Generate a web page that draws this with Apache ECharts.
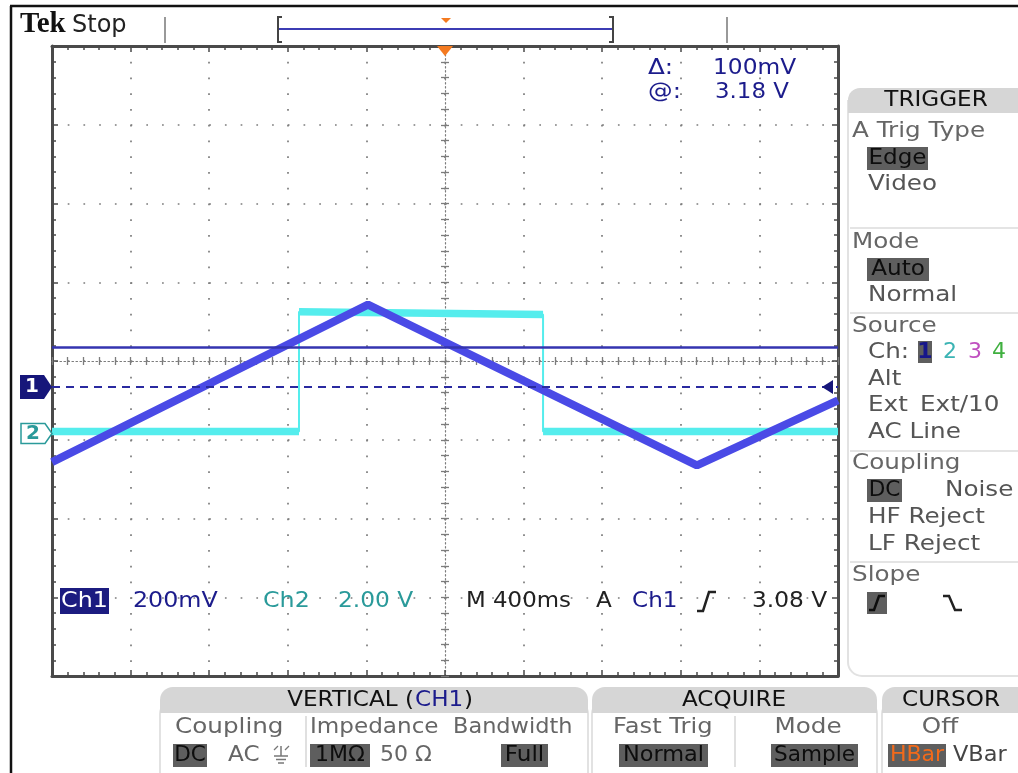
<!DOCTYPE html>
<html><head><meta charset="utf-8">
<script src="https://cdn.jsdelivr.net/npm/echarts@6/dist/echarts.min.js"></script>
<style>html,body{margin:0;padding:0;background:#fff}#c{width:1018px;height:773px}</style>
</head><body><div id="c"></div>
<script>
// ---------- data ----------
const timeMin = -2000, timeMax = 2000, timePerDiv = 400;          // ms
const ch1Times = [-2000, -392, 1282, 2000];                        // ms
const ch1Volts = [2.889, 3.289, 2.881, 3.046];                     // V
const ch2Times = [-2000, -743, -743, 499, 499, 2000];              // ms
const ch2Volts = [0.05, 0.05, 3.09, 3.02, 0.05, 0.05];             // V
const ch1VoltsPerDiv = 0.2, ch1CenterVolts = 3.146;
const ch2VoltsPerDiv = 2.0, ch2CenterVolts = 1.84;
const triggerLevel = 3.08, cursorLevel = 3.18, ch2Ground = 0;

// ---------- colours ----------
const C1 = '#4a4ae6', C2 = '#55eded', NAVY = '#1c1c8c', TEAL = '#2a9a9a';
const BORDER = '#4a4a4a', GRAT = '#7c7c7c';
const FONT = '"DejaVu Sans"';

const ch1Data = ch1Times.map((t, i) => [t, ch1Volts[i]]);
const ch2Full = ch2Times.map((t, i) => [t, ch2Volts[i]]);
const ch2Flat = [];
ch2Times.forEach((t, i) => {
  ch2Flat.push([t, ch2Volts[i]]);
  if (i < ch2Times.length - 1 && ch2Times[i + 1] === t) ch2Flat.push([t, '-']);
});

const G = {left: 52, top: 46, width: 786, height: 630};
const tickStyle = {color: BORDER, width: 1.5};
function borderAxis(pos, extra) {
  return Object.assign({
    type: 'value', position: pos,
    axisLine: {show: true, onZero: false, lineStyle: {color: BORDER, width: 3}},
    axisTick: {show: true, inside: true, length: 6, lineStyle: tickStyle},
    minorTick: {show: true, splitNumber: 5, length: 4, lineStyle: tickStyle},
    axisLabel: {show: false}, splitLine: {show: false}
  }, extra);
}
function centerAxis(pos, inside, onZeroIdx, extra) {
  return Object.assign({
    type: 'value', position: pos,
    axisLine: {show: inside, onZero: true, onZeroAxisIndex: onZeroIdx,
      lineStyle: {color: GRAT, width: 1.2, type: [1.5, 2.5]}},
    axisTick: {show: true, inside: inside, length: 4, lineStyle: {color: GRAT, width: 1.3}},
    minorTick: {show: true, splitNumber: 5, length: 4, lineStyle: {color: GRAT, width: 1.3}},
    axisLabel: {show: false}, splitLine: {show: false}
  }, extra);
}
const xr = {min: timeMin, max: timeMax, interval: timePerDiv};
const yr = {min: -4, max: 4, interval: 1};

const chart = echarts.init(document.getElementById('c'), null, {renderer: 'canvas'});
chart.setOption({
  animation: false,
  backgroundColor: '#fff',
  grid: Object.assign({containLabel: false, outerBoundsMode: 'none'}, G),
  xAxis: [
    borderAxis('bottom', Object.assign({splitLine: {show: true,
      lineStyle: {color: GRAT, width: 1.7, type: [1.7, G.height / 40 - 1.7]}}}, xr)),
    borderAxis('top', xr),
    centerAxis('bottom', true, 0, xr),
    centerAxis('bottom', false, 0, xr)
  ],
  yAxis: [
    borderAxis('left', Object.assign({splitLine: {show: true,
      lineStyle: {color: GRAT, width: 1.7, type: [1.7, G.width / 50 - 1.7]}}}, yr)),
    {type: 'value', show: false, min: ch1CenterVolts - 4 * ch1VoltsPerDiv, max: ch1CenterVolts + 4 * ch1VoltsPerDiv, axisLine: {onZero: false}},
    {type: 'value', show: false, min: ch2CenterVolts - 4 * ch2VoltsPerDiv, max: ch2CenterVolts + 4 * ch2VoltsPerDiv, axisLine: {onZero: false}},
    borderAxis('right', yr),
    centerAxis('left', true, 0, yr),
    centerAxis('left', false, 0, yr)
  ],
  series: [
    {type: 'line', name: 'Ch2 edges', xAxisIndex: 0, yAxisIndex: 2, data: ch2Full, showSymbol: false,
      lineStyle: {color: C2, width: 2}, z: 3, silent: true},
    {type: 'line', name: 'Ch2', xAxisIndex: 0, yAxisIndex: 2, data: ch2Flat, showSymbol: false, connectNulls: false,
      lineStyle: {color: C2, width: 7.5}, z: 3, silent: true},
    {type: 'line', name: 'Ch1', xAxisIndex: 0, yAxisIndex: 1, data: ch1Data, showSymbol: false,
      lineStyle: {color: C1, width: 8}, z: 4, silent: true,
      markLine: {silent: true, symbol: 'none', label: {show: false}, z: 6,
        data: [
          {yAxis: cursorLevel, lineStyle: {type: 'solid', color: '#3434b0', width: 2.5}},
          {yAxis: triggerLevel, lineStyle: {type: [8, 6], color: '#2a2aa0', width: 2}}
        ]}}
  ]
});

// ---------- instrument chrome ----------
const yTrig = chart.convertToPixel({yAxisIndex: 1}, triggerLevel);
const yGnd2 = chart.convertToPixel({yAxisIndex: 2}, ch2Ground);
const xTrig = chart.convertToPixel({xAxisIndex: 0}, 0);

function T(text, x, y, o) {
  o = o || {};
  return {type: 'text', x: x, y: y, scaleX: o.sx == null ? 1.12 : o.sx, z: 110, silent: true,
    style: {text: text, x: 0, y: 0, fill: o.fill || '#555',
      font: (o.weight || 'normal') + ' ' + (o.size || 22) + 'px ' + (o.family || FONT),
      align: o.align || 'left', verticalAlign: 'middle'}};
}
function L(points, color, w, extra) {
  return Object.assign({type: 'polyline', z: 100, silent: true, shape: {points: points},
    style: {stroke: color, lineWidth: w, fill: null}}, extra || {});
}
function R(x, y, w, h, fill, r, stroke) {
  return {type: 'rect', z: 90, silent: true, shape: {x: x, y: y, width: w, height: h, r: r || 0},
    style: {fill: fill, stroke: stroke || null, lineWidth: stroke ? 2 : 0}};
}
function P(points, fill, stroke) {
  return {type: 'polygon', z: 101, silent: true, shape: {points: points},
    style: {fill: fill, stroke: stroke || null, lineWidth: stroke ? 1.5 : 0}};
}
function HL(x, y, w, text, o) {   // highlighted (selected) menu item
  o = o || {};
  return [R(x, y - 11, w, 23, '#5e5e5e'),
    T(text, x + w / 2, y, {fill: o.fill || '#0d0d0d', align: 'center', sx: o.sx || 1.05})];
}

const gfx = [];
// outer frame
gfx.push(L([[10, 6], [1018, 6]], '#111', 2.5), L([[11, 6], [11, 773]], '#111', 2.5));
// title
gfx.push(T('Tek', 20, 25, {fill: '#111', weight: 'bold', size: 29, family: '"Liberation Serif"', sx: 1}));
gfx.push(T('Stop', 72, 26, {fill: '#222', size: 24, sx: 1}));
// record view bar
gfx.push(L([[165, 17], [165, 43]], '#999', 2), L([[727, 17], [727, 43]], '#999', 2));
gfx.push(L([[278, 29], [613, 29]], '#3c3cb4', 2));
gfx.push(L([[282, 17], [278, 17], [278, 42], [282, 42]], '#444', 2));
gfx.push(L([[609, 17], [613, 17], [613, 42], [609, 42]], '#444', 2));
gfx.push(P([[441, 18], [451, 18], [446, 23]], '#f47a20'));
gfx.push(P([[xTrig - 8, 46], [xTrig + 8, 46], [xTrig, 56]], '#f47a20'));

// channel markers
gfx.push(P([[20, yTrig - 12], [44, yTrig - 12], [52, yTrig], [44, yTrig + 12], [20, yTrig + 12]], '#16167a'));
gfx.push(T('1', 32, yTrig, {fill: '#fff', weight: 'bold', size: 20, align: 'center', sx: 1}));
gfx.push(P([[21, yGnd2 - 10], [45, yGnd2 - 10], [52, yGnd2], [45, yGnd2 + 10], [21, yGnd2 + 10]], '#fff', TEAL));
gfx.push(T('2', 33, yGnd2, {fill: TEAL, weight: 'bold', size: 20, align: 'center', sx: 1}));
gfx.push(P([[822, yTrig], [833, yTrig - 7], [833, yTrig + 7]], '#16167a'));

// cursor readout
gfx.push(T('Δ:', 648, 68, {fill: NAVY}), T('100mV', 713, 68, {fill: NAVY, sx: 1.06}));
gfx.push(T('@:', 648, 92, {fill: NAVY}), T('3.18 V', 715, 92, {fill: NAVY, sx: 1.04}));

// bottom readout in the graticule
gfx.push(R(60, 588, 49, 26, '#1c1c80'));
gfx.push(T('Ch1', 84.5, 601, {fill: '#fff', align: 'center', sx: 1.08}));
gfx.push(T('200mV', 133, 601, {fill: NAVY, sx: 1.08}));
gfx.push(T('Ch2', 263, 601, {fill: TEAL, sx: 1.08}));
gfx.push(T('2.00 V', 338, 601, {fill: TEAL, sx: 1.06}));
gfx.push(T('M 400ms', 466, 601, {fill: '#222', sx: 1.04}));
gfx.push(T('A', 596, 601, {fill: '#222', sx: 1.05}));
gfx.push(T('Ch1', 632, 601, {fill: NAVY, sx: 1.05}));
gfx.push(L([[697, 611], [703, 611], [709, 592], [716, 592]], '#222', 2.5));
gfx.push(T('3.08 V', 752, 601, {fill: '#222', sx: 1.06}));

// right-hand TRIGGER menu
gfx.push(R(848, 100, 200, 576, '#fff', [0, 0, 0, 14], '#e2e2e2'));
gfx.push(R(848, 88, 200, 25, '#d6d6d6', [12, 0, 0, 0]));
gfx.push(T('TRIGGER', 936, 100, {fill: '#111', align: 'center', sx: 1.05}));
[[228], [313], [451], [562]].forEach(a => gfx.push(L([[850, a[0]], [1018, a[0]]], '#e4e4e4', 2)));
[
  ['A Trig Type', 852, 131, '#666'], ['Video', 868, 184, '#555'],
  ['Mode', 852, 242, '#666'], ['Normal', 868, 295, '#555'],
  ['Source', 852, 326, '#666'], ['Ch:', 868, 352, '#555'],
  ['Alt', 868, 379, '#555'], ['Ext', 868, 405, '#555'], ['Ext/10', 920, 405, '#555'],
  ['AC Line', 868, 432, '#555'], ['Coupling', 852, 463, '#666'], ['Noise', 945, 490, '#555'],
  ['HF Reject', 868, 517, '#555'], ['LF Reject', 868, 544, '#555'], ['Slope', 852, 575, '#666']
].forEach(a => gfx.push(T(a[0], a[1], a[2], {fill: a[3]})));
gfx.push(...HL(867, 158, 61, 'Edge'), ...HL(867, 269, 62, 'Auto'), ...HL(867, 490, 35, 'DC', {sx: 0.98}));
gfx.push(R(918, 341, 14, 22, '#5e5e5e'));
gfx.push(T('1', 925, 352, {fill: '#16168a', weight: 'bold', align: 'center', sx: 1}));
gfx.push(T('2', 943, 352, {fill: '#3cb4b4', sx: 1}), T('3', 968, 352, {fill: '#c050c0', sx: 1}), T('4', 992, 352, {fill: '#40b040', sx: 1}));
gfx.push(R(867, 592, 20, 22, '#5e5e5e'));
gfx.push(L([[869, 610], [874, 610], [879, 596], [885, 596]], '#0d0d0d', 2.5));
gfx.push(L([[943, 596], [949, 596], [955, 610], [962, 610]], '#222', 2.5));

// bottom menus
function tab(x, w, title, cx) {
  gfx.push(R(x, 700, w, 100, '#fff', [14, 14, 0, 0], '#e2e2e2'));
  gfx.push(R(x, 687, w, 26, '#d6d6d6', [13, 13, 0, 0]));
  if (title) gfx.push(T(title, cx, 700, {fill: '#111', align: 'center', sx: 1.05}));
}
tab(160, 428, null, 0);
gfx.push(T('VERTICAL (', 414, 700, {fill: '#111', align: 'right', sx: 1.05}));
gfx.push(T('CH1', 415, 700, {fill: NAVY, sx: 1.05}), T(')', 464, 700, {fill: '#111', sx: 1.05}));
tab(592, 285, 'ACQUIRE', 734);
tab(882, 160, 'CURSOR', 951);
gfx.push(L([[306, 716], [306, 767]], '#e0e0e0', 2), L([[735, 716], [735, 767]], '#e0e0e0', 2));
gfx.push(T('Coupling', 175, 727, {fill: '#666'}), T('Impedance', 310, 727, {fill: '#666', sx: 1.05}),
  T('Bandwidth', 453, 727, {fill: '#666', sx: 1.02}), T('Fast Trig', 613, 727, {fill: '#666', sx: 1.1}),
  T('Mode', 808, 727, {fill: '#666', align: 'center'}), T('Off', 940, 727, {fill: '#666', align: 'center'}));
gfx.push(...HL(173, 755, 34, 'DC', {sx: 0.98}), T('AC', 228, 755, {fill: '#666', sx: 1.05}));
gfx.push(L([[281, 746], [281, 756]], '#777', 1.5), L([[274, 756], [288, 756]], '#777', 1.5),
  L([[276, 759.5], [286, 759.5]], '#777', 1.5), L([[278, 763], [284, 763]], '#777', 1.5),
  L([[274, 750], [278, 746]], '#777', 1.2), L([[285, 750], [289, 746]], '#777', 1.2));
gfx.push(...HL(310, 755, 60, '1MΩ', {sx: 1.0}), T('50 Ω', 380, 755, {fill: '#666', sx: 1.0}));
gfx.push(...HL(501, 755, 47, 'Full', {sx: 1.05}));
gfx.push(...HL(619, 755, 89, 'Normal', {sx: 1.02}), ...HL(771, 755, 87, 'Sample', {sx: 0.98}));
gfx.push(...HL(888, 755, 58, 'HBar', {fill: '#f26a1b', sx: 1.0}), T('VBar', 953, 755, {fill: '#444', sx: 1.02}));

chart.setOption({graphic: {elements: gfx}});
</script></body></html>
